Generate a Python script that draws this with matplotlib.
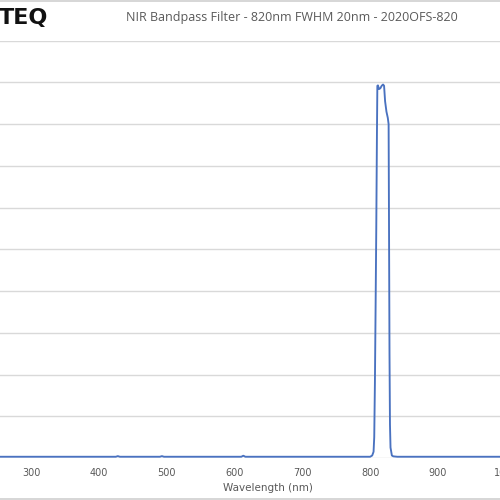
import matplotlib
matplotlib.use("Agg")
import matplotlib.pyplot as plt
from matplotlib.lines import Line2D

# Measured transmission of the 820 nm bandpass filter
wavelength_nm = [250, 300, 350, 400, 425, 428, 431, 450, 490, 493, 496, 550,
                 600, 610, 613, 616, 650, 700, 750, 800, 803, 805, 806, 807,
                 808, 809, 810, 810.6, 811.5, 813, 815, 817, 819, 820.5, 822,
                 824, 826, 827.2, 827.8, 828.5, 829.2, 830, 832, 834, 840,
                 900, 950, 1000, 1100]
transmission_pct = [0.3, 0.3, 0.3, 0.3, 0.3, 0.45, 0.3, 0.3, 0.3, 0.45, 0.3, 0.3,
                    0.3, 0.3, 0.55, 0.3, 0.3, 0.3, 0.3, 0.3, 0.6, 1.5, 5, 18,
                    36, 55, 78, 89.2, 89.3, 88.4, 88.6, 89.2, 89.5, 89.2, 85.5,
                    83, 81.5, 80, 55, 25, 8, 2.5, 0.6, 0.4, 0.3,
                    0.3, 0.3, 0.3, 0.3]

x_ticks = [300, 400, 500, 600, 700, 800, 900, 1000]
y_grid = list(range(0, 101, 10))

title = "NIR Bandpass Filter - 820nm FWHM 20nm - 2020OFS-820"
x_label = "Wavelength (nm)"

W, H = 500, 500
fig = plt.figure(figsize=(5, 5), dpi=100)

# Plot area: 300 nm at px 31, 900 nm at px 438; 0 % at px 458, 100 % at px 40.7
px_per_nm = (438 - 31) / 600.0
x_lo, x_hi = 200, 1100
left_px = 31 - (300 - x_lo) * px_per_nm
width_px = (x_hi - x_lo) * px_per_nm
bottom_px = 458
top_px = 40.7
ax = fig.add_axes([left_px / W, (H - bottom_px) / H,
                   width_px / W, (bottom_px - top_px) / H])
ax.set_xlim(x_lo, x_hi)
ax.set_ylim(0, 100)

for y in y_grid:
    ax.axhline(y, color="#d9d9d9", lw=1.0, zorder=1)

ax.plot(wavelength_nm, transmission_pct, color="#4a72c0", lw=1.35, zorder=3)

for s in ax.spines.values():
    s.set_visible(False)
ax.set_yticks([])
ax.set_xticks(x_ticks)
ax.set_xticklabels([str(t) for t in x_ticks])
ax.tick_params(axis="x", length=0, pad=7, labelsize=7, labelcolor="#595959")
ax.set_xlabel(x_label, fontsize=7.5, color="#595959", labelpad=4)
ax.patch.set_visible(False)

fig.text(292 / W, 1 - 17 / H, title, ha="center", va="center",
         fontsize=9, color="#595959", family="Open Sans")

# Company logo (partly outside the frame)
fig.text(-1 / W, 1 - 18 / H, "TEQ", ha="left", va="center", fontsize=16,
         fontweight="heavy", color="#111111", family="DejaVu Sans")

# Chart border lines
fig.add_artist(Line2D([0, 1], [1 - 1 / H, 1 - 1 / H], transform=fig.transFigure,
                      color="#d0d0d0", lw=1.2))
fig.add_artist(Line2D([0, 1], [1.5 / H, 1.5 / H], transform=fig.transFigure,
                      color="#d0d0d0", lw=1.2))

fig.savefig("out.png", dpi=100)
